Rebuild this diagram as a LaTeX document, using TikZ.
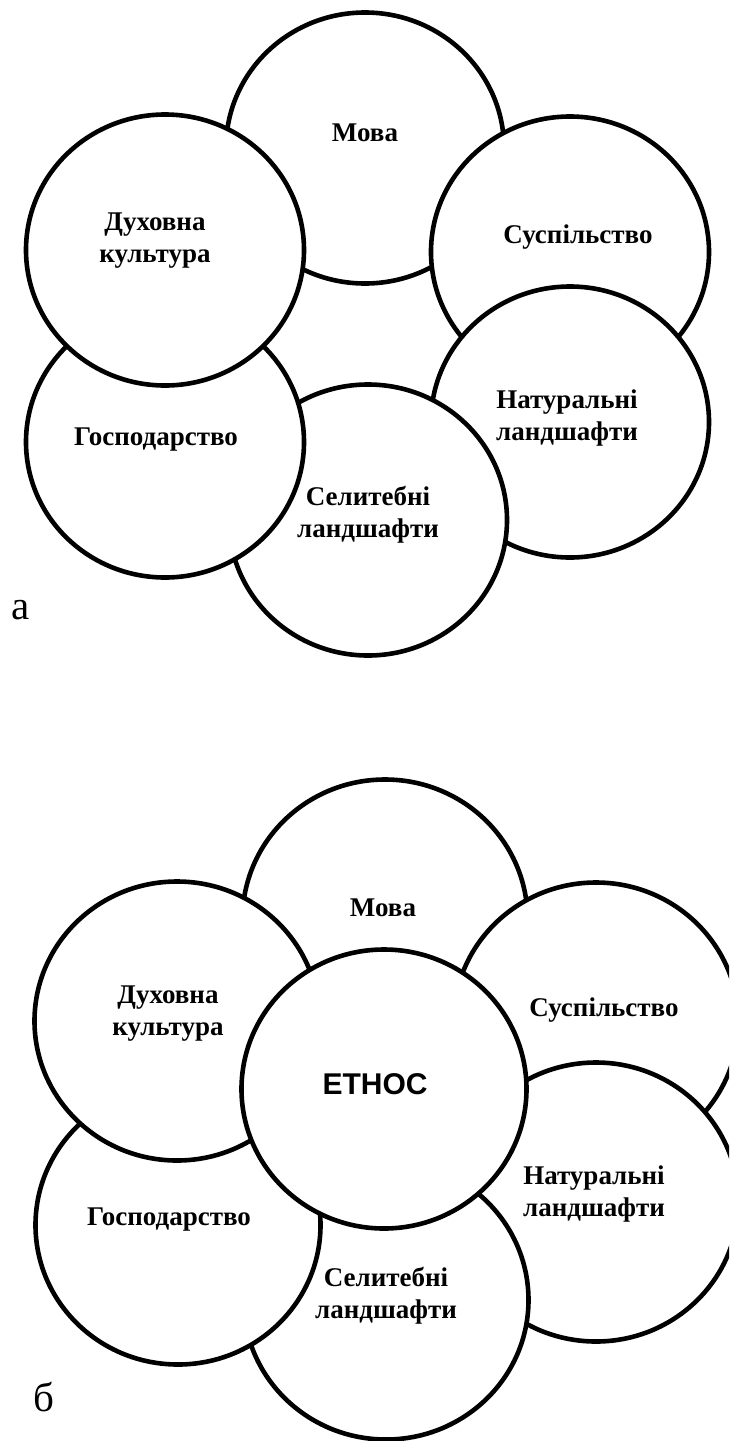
\documentclass[tikz,border=0pt]{standalone}
\usepackage{fontspec}
\setmainfont{Liberation Serif}
\newfontfamily\etnosfont{Liberation Sans}
\usepackage{tikz}
\usetikzlibrary{shapes.geometric}

\begin{document}
\begin{tikzpicture}[node distance=85pt]
    \tikzstyle{disk}=[ellipse,draw,line width=2.3pt,fill=white,inner sep=0pt,minimum width=139pt,minimum height=135.5pt]
    \tikzstyle{bigdisk}=[disk,minimum width=142.5pt,minimum height=139.5pt]
    \tikzstyle{txt}=[align=center,inner sep=0pt,font=\bfseries\fontsize{13.5pt}{16pt}\selectfont]
    \tikzstyle{tag}=[inner sep=0pt,anchor=base,font=\fontsize{20.5pt}{24pt}\selectfont]
    \path[use as bounding box,clip] (0,0) rectangle (364.5pt,-720.5pt);
    % a
    \node[disk] (movaA) at (182.5pt,-74pt) {};
    \node[disk,below of=movaA,node distance=52pt,xshift=102.5pt] (suspA) {};
    \node[disk,below of=suspA] (natA) {};
    \node[disk,below of=movaA,node distance=186pt,xshift=1.5pt] (selA) {};
    \node[disk,below of=movaA,node distance=147pt,xshift=-100pt] (hospA) {};
    \node[disk,below of=movaA,node distance=51pt,xshift=-100pt] (duhA) {};
    \node[txt,above of=movaA,node distance=7.5pt] (movaAlbl) {Мова};
    \node[txt,above of=suspA,node distance=7.5pt,xshift=4pt] (suspAlbl) {Суспільство};
    \node[txt,above of=natA,node distance=2pt,xshift=-1.5pt] (natAlbl) {Натуральні\\ландшафти};
    \node[txt,above of=selA,node distance=2.5pt] (selAlbl) {Селитебні\\ландшафти};
    \node[txt,above of=hospA,node distance=1pt,xshift=-4.5pt] (hospAlbl) {Господарство};
    \node[txt,above of=duhA,node distance=4.5pt,xshift=-5pt] (duhAlbl) {Духовна\\культура};
    \node[tag] (tagA) at (10.25pt,-309.5pt) {а};
    % b
    \node[bigdisk,below of=movaA,node distance=385.5pt,xshift=10pt] (movaB) {};
    \node[bigdisk,below of=movaB,node distance=51.5pt,xshift=105.5pt] (suspB) {};
    \node[bigdisk,below of=suspB,node distance=90pt] (natB) {};
    \node[bigdisk,below of=movaB,node distance=190.5pt,xshift=0.5pt] (selB) {};
    \node[bigdisk,below of=movaB,node distance=153pt,xshift=-103.5pt] (hospB) {};
    \node[bigdisk,below of=movaB,node distance=51pt,xshift=-104pt] (duhB) {};
    \node[bigdisk,below of=movaB,xshift=-0.5pt] (etnos) {};
    \node[txt,above of=movaB,node distance=5.5pt,xshift=-1pt] (movaBlbl) {Мова};
    \node[txt,above of=suspB,node distance=6pt,xshift=4pt] (suspBlbl) {Суспільство};
    \node[txt,above of=natB,node distance=4pt,xshift=-1pt] (natBlbl) {Натуральні\\ландшафти};
    \node[txt,above of=selB,node distance=2pt] (selBlbl) {Селитебні\\ландшафти};
    \node[txt,above of=hospB,node distance=2.5pt,xshift=-4.5pt] (hospBlbl) {Господарство};
    \node[txt,above of=duhB,node distance=3.5pt,xshift=-4.5pt] (duhBlbl) {Духовна\\культура};
    \node[txt,above of=etnos,node distance=2.5pt,xshift=-4.5pt,font=\etnosfont\bfseries\fontsize{15pt}{18pt}\selectfont] (etnoslbl) {ЕТНОС};
    \node[tag] (tagB) at (22pt,-705.5pt) {б};
\end{tikzpicture}
\end{document}
